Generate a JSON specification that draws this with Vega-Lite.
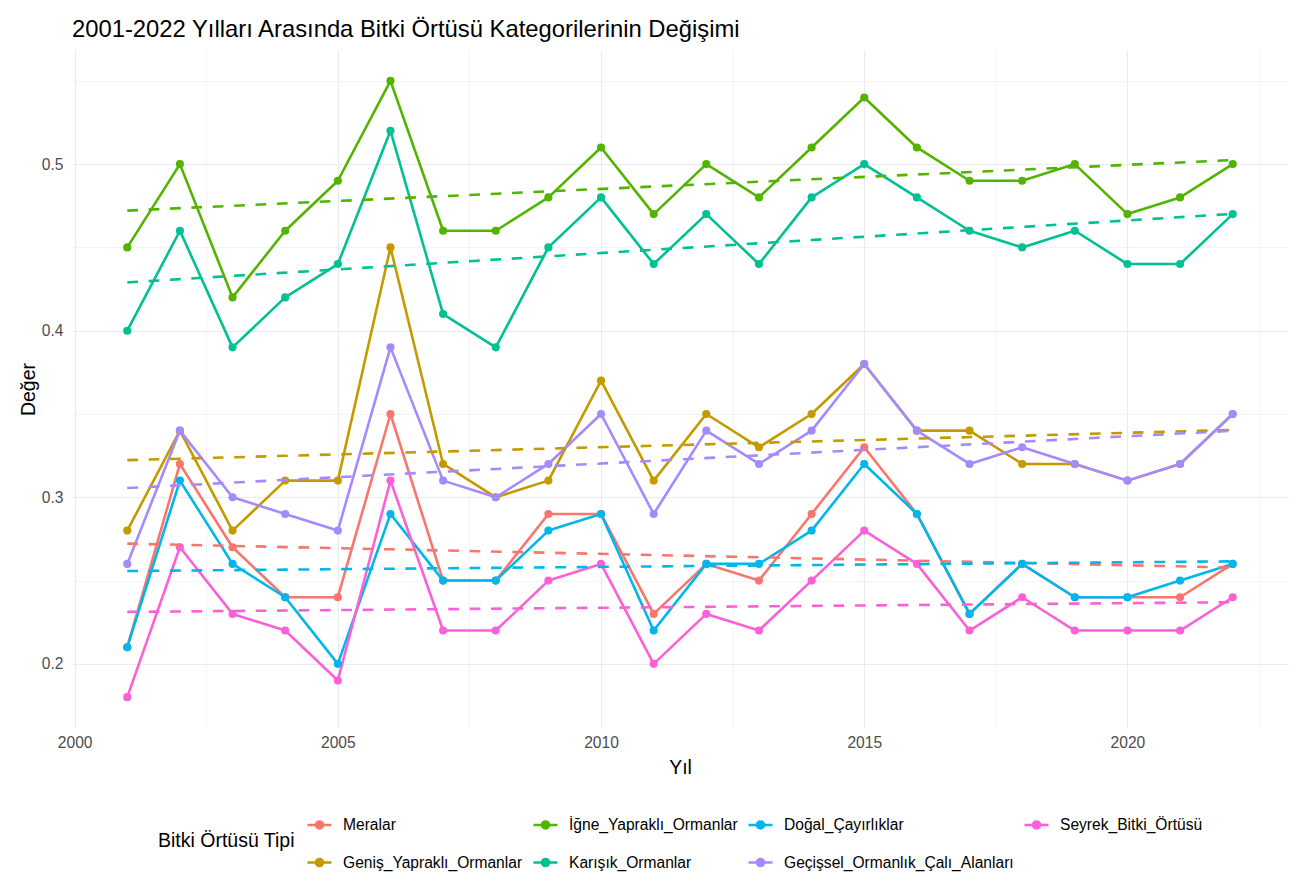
{
"$schema":"https://vega.github.io/schema/vega-lite/v6.json",
"autosize":"none",
"width":1216,"height":678,
"padding":{"left":72,"top":50,"right":16,"bottom":167},
"background":"white",
"title":{"text":"2001-2022 Yılları Arasında Bitki Örtüsü Kategorilerinin Değişimi","anchor":"start","frame":"group","fontSize":23.8,"font":"Liberation Sans","fontWeight":"normal","color":"black","offset":8},
"config":{"view":{"stroke":null},"font":"Liberation Sans"},
"data":{"values":[
{"Yil":2001,"Tip":"Meralar","Deger":0.21},{"Yil":2002,"Tip":"Meralar","Deger":0.32},{"Yil":2003,"Tip":"Meralar","Deger":0.27},{"Yil":2004,"Tip":"Meralar","Deger":0.24},{"Yil":2005,"Tip":"Meralar","Deger":0.24},{"Yil":2006,"Tip":"Meralar","Deger":0.35},{"Yil":2007,"Tip":"Meralar","Deger":0.25},{"Yil":2008,"Tip":"Meralar","Deger":0.25},{"Yil":2009,"Tip":"Meralar","Deger":0.29},{"Yil":2010,"Tip":"Meralar","Deger":0.29},{"Yil":2011,"Tip":"Meralar","Deger":0.23},{"Yil":2012,"Tip":"Meralar","Deger":0.26},{"Yil":2013,"Tip":"Meralar","Deger":0.25},{"Yil":2014,"Tip":"Meralar","Deger":0.29},{"Yil":2015,"Tip":"Meralar","Deger":0.33},{"Yil":2016,"Tip":"Meralar","Deger":0.29},{"Yil":2017,"Tip":"Meralar","Deger":0.23},{"Yil":2018,"Tip":"Meralar","Deger":0.26},{"Yil":2019,"Tip":"Meralar","Deger":0.24},{"Yil":2020,"Tip":"Meralar","Deger":0.24},{"Yil":2021,"Tip":"Meralar","Deger":0.24},{"Yil":2022,"Tip":"Meralar","Deger":0.26},
{"Yil":2001,"Tip":"Geniş_Yapraklı_Ormanlar","Deger":0.28},{"Yil":2002,"Tip":"Geniş_Yapraklı_Ormanlar","Deger":0.34},{"Yil":2003,"Tip":"Geniş_Yapraklı_Ormanlar","Deger":0.28},{"Yil":2004,"Tip":"Geniş_Yapraklı_Ormanlar","Deger":0.31},{"Yil":2005,"Tip":"Geniş_Yapraklı_Ormanlar","Deger":0.31},{"Yil":2006,"Tip":"Geniş_Yapraklı_Ormanlar","Deger":0.45},{"Yil":2007,"Tip":"Geniş_Yapraklı_Ormanlar","Deger":0.32},{"Yil":2008,"Tip":"Geniş_Yapraklı_Ormanlar","Deger":0.30},{"Yil":2009,"Tip":"Geniş_Yapraklı_Ormanlar","Deger":0.31},{"Yil":2010,"Tip":"Geniş_Yapraklı_Ormanlar","Deger":0.37},{"Yil":2011,"Tip":"Geniş_Yapraklı_Ormanlar","Deger":0.31},{"Yil":2012,"Tip":"Geniş_Yapraklı_Ormanlar","Deger":0.35},{"Yil":2013,"Tip":"Geniş_Yapraklı_Ormanlar","Deger":0.33},{"Yil":2014,"Tip":"Geniş_Yapraklı_Ormanlar","Deger":0.35},{"Yil":2015,"Tip":"Geniş_Yapraklı_Ormanlar","Deger":0.38},{"Yil":2016,"Tip":"Geniş_Yapraklı_Ormanlar","Deger":0.34},{"Yil":2017,"Tip":"Geniş_Yapraklı_Ormanlar","Deger":0.34},{"Yil":2018,"Tip":"Geniş_Yapraklı_Ormanlar","Deger":0.32},{"Yil":2019,"Tip":"Geniş_Yapraklı_Ormanlar","Deger":0.32},{"Yil":2020,"Tip":"Geniş_Yapraklı_Ormanlar","Deger":0.31},{"Yil":2021,"Tip":"Geniş_Yapraklı_Ormanlar","Deger":0.32},{"Yil":2022,"Tip":"Geniş_Yapraklı_Ormanlar","Deger":0.35},
{"Yil":2001,"Tip":"İğne_Yapraklı_Ormanlar","Deger":0.45},{"Yil":2002,"Tip":"İğne_Yapraklı_Ormanlar","Deger":0.50},{"Yil":2003,"Tip":"İğne_Yapraklı_Ormanlar","Deger":0.42},{"Yil":2004,"Tip":"İğne_Yapraklı_Ormanlar","Deger":0.46},{"Yil":2005,"Tip":"İğne_Yapraklı_Ormanlar","Deger":0.49},{"Yil":2006,"Tip":"İğne_Yapraklı_Ormanlar","Deger":0.55},{"Yil":2007,"Tip":"İğne_Yapraklı_Ormanlar","Deger":0.46},{"Yil":2008,"Tip":"İğne_Yapraklı_Ormanlar","Deger":0.46},{"Yil":2009,"Tip":"İğne_Yapraklı_Ormanlar","Deger":0.48},{"Yil":2010,"Tip":"İğne_Yapraklı_Ormanlar","Deger":0.51},{"Yil":2011,"Tip":"İğne_Yapraklı_Ormanlar","Deger":0.47},{"Yil":2012,"Tip":"İğne_Yapraklı_Ormanlar","Deger":0.50},{"Yil":2013,"Tip":"İğne_Yapraklı_Ormanlar","Deger":0.48},{"Yil":2014,"Tip":"İğne_Yapraklı_Ormanlar","Deger":0.51},{"Yil":2015,"Tip":"İğne_Yapraklı_Ormanlar","Deger":0.54},{"Yil":2016,"Tip":"İğne_Yapraklı_Ormanlar","Deger":0.51},{"Yil":2017,"Tip":"İğne_Yapraklı_Ormanlar","Deger":0.49},{"Yil":2018,"Tip":"İğne_Yapraklı_Ormanlar","Deger":0.49},{"Yil":2019,"Tip":"İğne_Yapraklı_Ormanlar","Deger":0.50},{"Yil":2020,"Tip":"İğne_Yapraklı_Ormanlar","Deger":0.47},{"Yil":2021,"Tip":"İğne_Yapraklı_Ormanlar","Deger":0.48},{"Yil":2022,"Tip":"İğne_Yapraklı_Ormanlar","Deger":0.50},
{"Yil":2001,"Tip":"Karışık_Ormanlar","Deger":0.40},{"Yil":2002,"Tip":"Karışık_Ormanlar","Deger":0.46},{"Yil":2003,"Tip":"Karışık_Ormanlar","Deger":0.39},{"Yil":2004,"Tip":"Karışık_Ormanlar","Deger":0.42},{"Yil":2005,"Tip":"Karışık_Ormanlar","Deger":0.44},{"Yil":2006,"Tip":"Karışık_Ormanlar","Deger":0.52},{"Yil":2007,"Tip":"Karışık_Ormanlar","Deger":0.41},{"Yil":2008,"Tip":"Karışık_Ormanlar","Deger":0.39},{"Yil":2009,"Tip":"Karışık_Ormanlar","Deger":0.45},{"Yil":2010,"Tip":"Karışık_Ormanlar","Deger":0.48},{"Yil":2011,"Tip":"Karışık_Ormanlar","Deger":0.44},{"Yil":2012,"Tip":"Karışık_Ormanlar","Deger":0.47},{"Yil":2013,"Tip":"Karışık_Ormanlar","Deger":0.44},{"Yil":2014,"Tip":"Karışık_Ormanlar","Deger":0.48},{"Yil":2015,"Tip":"Karışık_Ormanlar","Deger":0.50},{"Yil":2016,"Tip":"Karışık_Ormanlar","Deger":0.48},{"Yil":2017,"Tip":"Karışık_Ormanlar","Deger":0.46},{"Yil":2018,"Tip":"Karışık_Ormanlar","Deger":0.45},{"Yil":2019,"Tip":"Karışık_Ormanlar","Deger":0.46},{"Yil":2020,"Tip":"Karışık_Ormanlar","Deger":0.44},{"Yil":2021,"Tip":"Karışık_Ormanlar","Deger":0.44},{"Yil":2022,"Tip":"Karışık_Ormanlar","Deger":0.47},
{"Yil":2001,"Tip":"Doğal_Çayırlıklar","Deger":0.21},{"Yil":2002,"Tip":"Doğal_Çayırlıklar","Deger":0.31},{"Yil":2003,"Tip":"Doğal_Çayırlıklar","Deger":0.26},{"Yil":2004,"Tip":"Doğal_Çayırlıklar","Deger":0.24},{"Yil":2005,"Tip":"Doğal_Çayırlıklar","Deger":0.20},{"Yil":2006,"Tip":"Doğal_Çayırlıklar","Deger":0.29},{"Yil":2007,"Tip":"Doğal_Çayırlıklar","Deger":0.25},{"Yil":2008,"Tip":"Doğal_Çayırlıklar","Deger":0.25},{"Yil":2009,"Tip":"Doğal_Çayırlıklar","Deger":0.28},{"Yil":2010,"Tip":"Doğal_Çayırlıklar","Deger":0.29},{"Yil":2011,"Tip":"Doğal_Çayırlıklar","Deger":0.22},{"Yil":2012,"Tip":"Doğal_Çayırlıklar","Deger":0.26},{"Yil":2013,"Tip":"Doğal_Çayırlıklar","Deger":0.26},{"Yil":2014,"Tip":"Doğal_Çayırlıklar","Deger":0.28},{"Yil":2015,"Tip":"Doğal_Çayırlıklar","Deger":0.32},{"Yil":2016,"Tip":"Doğal_Çayırlıklar","Deger":0.29},{"Yil":2017,"Tip":"Doğal_Çayırlıklar","Deger":0.23},{"Yil":2018,"Tip":"Doğal_Çayırlıklar","Deger":0.26},{"Yil":2019,"Tip":"Doğal_Çayırlıklar","Deger":0.24},{"Yil":2020,"Tip":"Doğal_Çayırlıklar","Deger":0.24},{"Yil":2021,"Tip":"Doğal_Çayırlıklar","Deger":0.25},{"Yil":2022,"Tip":"Doğal_Çayırlıklar","Deger":0.26},
{"Yil":2001,"Tip":"Geçişsel_Ormanlık_Çalı_Alanları","Deger":0.26},{"Yil":2002,"Tip":"Geçişsel_Ormanlık_Çalı_Alanları","Deger":0.34},{"Yil":2003,"Tip":"Geçişsel_Ormanlık_Çalı_Alanları","Deger":0.30},{"Yil":2004,"Tip":"Geçişsel_Ormanlık_Çalı_Alanları","Deger":0.29},{"Yil":2005,"Tip":"Geçişsel_Ormanlık_Çalı_Alanları","Deger":0.28},{"Yil":2006,"Tip":"Geçişsel_Ormanlık_Çalı_Alanları","Deger":0.39},{"Yil":2007,"Tip":"Geçişsel_Ormanlık_Çalı_Alanları","Deger":0.31},{"Yil":2008,"Tip":"Geçişsel_Ormanlık_Çalı_Alanları","Deger":0.30},{"Yil":2009,"Tip":"Geçişsel_Ormanlık_Çalı_Alanları","Deger":0.32},{"Yil":2010,"Tip":"Geçişsel_Ormanlık_Çalı_Alanları","Deger":0.35},{"Yil":2011,"Tip":"Geçişsel_Ormanlık_Çalı_Alanları","Deger":0.29},{"Yil":2012,"Tip":"Geçişsel_Ormanlık_Çalı_Alanları","Deger":0.34},{"Yil":2013,"Tip":"Geçişsel_Ormanlık_Çalı_Alanları","Deger":0.32},{"Yil":2014,"Tip":"Geçişsel_Ormanlık_Çalı_Alanları","Deger":0.34},{"Yil":2015,"Tip":"Geçişsel_Ormanlık_Çalı_Alanları","Deger":0.38},{"Yil":2016,"Tip":"Geçişsel_Ormanlık_Çalı_Alanları","Deger":0.34},{"Yil":2017,"Tip":"Geçişsel_Ormanlık_Çalı_Alanları","Deger":0.32},{"Yil":2018,"Tip":"Geçişsel_Ormanlık_Çalı_Alanları","Deger":0.33},{"Yil":2019,"Tip":"Geçişsel_Ormanlık_Çalı_Alanları","Deger":0.32},{"Yil":2020,"Tip":"Geçişsel_Ormanlık_Çalı_Alanları","Deger":0.31},{"Yil":2021,"Tip":"Geçişsel_Ormanlık_Çalı_Alanları","Deger":0.32},{"Yil":2022,"Tip":"Geçişsel_Ormanlık_Çalı_Alanları","Deger":0.35},
{"Yil":2001,"Tip":"Seyrek_Bitki_Örtüsü","Deger":0.18},{"Yil":2002,"Tip":"Seyrek_Bitki_Örtüsü","Deger":0.27},{"Yil":2003,"Tip":"Seyrek_Bitki_Örtüsü","Deger":0.23},{"Yil":2004,"Tip":"Seyrek_Bitki_Örtüsü","Deger":0.22},{"Yil":2005,"Tip":"Seyrek_Bitki_Örtüsü","Deger":0.19},{"Yil":2006,"Tip":"Seyrek_Bitki_Örtüsü","Deger":0.31},{"Yil":2007,"Tip":"Seyrek_Bitki_Örtüsü","Deger":0.22},{"Yil":2008,"Tip":"Seyrek_Bitki_Örtüsü","Deger":0.22},{"Yil":2009,"Tip":"Seyrek_Bitki_Örtüsü","Deger":0.25},{"Yil":2010,"Tip":"Seyrek_Bitki_Örtüsü","Deger":0.26},{"Yil":2011,"Tip":"Seyrek_Bitki_Örtüsü","Deger":0.20},{"Yil":2012,"Tip":"Seyrek_Bitki_Örtüsü","Deger":0.23},{"Yil":2013,"Tip":"Seyrek_Bitki_Örtüsü","Deger":0.22},{"Yil":2014,"Tip":"Seyrek_Bitki_Örtüsü","Deger":0.25},{"Yil":2015,"Tip":"Seyrek_Bitki_Örtüsü","Deger":0.28},{"Yil":2016,"Tip":"Seyrek_Bitki_Örtüsü","Deger":0.26},{"Yil":2017,"Tip":"Seyrek_Bitki_Örtüsü","Deger":0.22},{"Yil":2018,"Tip":"Seyrek_Bitki_Örtüsü","Deger":0.24},{"Yil":2019,"Tip":"Seyrek_Bitki_Örtüsü","Deger":0.22},{"Yil":2020,"Tip":"Seyrek_Bitki_Örtüsü","Deger":0.22},{"Yil":2021,"Tip":"Seyrek_Bitki_Örtüsü","Deger":0.22},{"Yil":2022,"Tip":"Seyrek_Bitki_Örtüsü","Deger":0.24}
]},
"layer":[
{"mark":{"type":"line","strokeWidth":2.6,"strokeCap":"butt","strokeJoin":"round"},
 "encoding":{
  "x":{"field":"Yil","type":"quantitative","scale":{"domain":[1999.95,2023.05],"nice":false,"zero":false},
   "axis":{"orient":"bottom","values":[2000,2005,2010,2015,2020],"format":"d","grid":true,"gridColor":"#EBEBEB","gridWidth":1.1,"ticks":false,"domain":false,"labelFontSize":15.6,"labelColor":"#4D4D4D","labelPadding":7,"labelFont":"Liberation Sans","title":"Yıl","titleFont":"Liberation Sans","titleFontSize":19.5,"titleFontWeight":"normal","titleColor":"black","titlePadding":8,"zindex":0}},
  "y":{"field":"Deger","type":"quantitative","scale":{"domain":[0.1615,0.5685],"nice":false,"zero":false},
   "axis":{"orient":"left","values":[0.2,0.3,0.4,0.5],"format":".1f","grid":true,"gridColor":"#EBEBEB","gridWidth":1.1,"ticks":false,"domain":false,"labelFontSize":15.6,"labelColor":"#4D4D4D","labelPadding":9,"labelFont":"Liberation Sans","title":"Değer","titleFont":"Liberation Sans","titleFontSize":19.5,"titleFontWeight":"normal","titleColor":"black","titlePadding":3,"zindex":0}},
  "color":{"field":"Tip","type":"nominal","scale":{"domain":["Meralar","İğne_Yapraklı_Ormanlar","Doğal_Çayırlıklar","Seyrek_Bitki_Örtüsü","Geniş_Yapraklı_Ormanlar","Karışık_Ormanlar","Geçişsel_Ormanlık_Çalı_Alanları"],"range":["#F8766D","#53B400","#00B6EB","#FB61D7","#C49A00","#00C094","#A58AFF"]},
   "legend":{"title":"Bitki Örtüsü Tipi","orient":"none","legendX":86,"legendY":761,"direction":"horizontal","columns":4,"symbolType":"M-1,0L1,0M-0.3,0A0.3,0.3,0,1,1,0.3,0A0.3,0.3,0,1,1,-0.3,0Z","symbolSize":576,"symbolStrokeWidth":2.4,"labelFontSize":15.6,"labelFont":"Liberation Sans","labelColor":"black","labelLimit":0,"labelOffset":10,"columnPadding":5,"rowPadding":15,"titleOrient":"left","titleFontSize":19.5,"titleFont":"Liberation Sans","titleFontWeight":"normal","titleColor":"black","titlePadding":11,"titleAnchor":"middle","titleBaseline":"middle","titleLimit":0,
   "encode":{"symbols":{"update":{"stroke":{"scale":"color","field":"value"},"fill":{"scale":"color","field":"value"},"opacity":{"value":1}}}}}}
 }},
{"mark":{"type":"point","filled":true,"opacity":1,"size":66},
 "encoding":{
  "x":{"field":"Yil","type":"quantitative","axis":{"orient":"bottom","values":[2002.5,2007.5,2012.5,2017.5,2022.5],"grid":true,"gridColor":"#EBEBEB","gridWidth":0.55,"ticks":false,"domain":false,"labels":false,"title":null,"zindex":0}},
  "y":{"field":"Deger","type":"quantitative","axis":{"orient":"left","values":[0.25,0.35,0.45,0.55],"grid":true,"gridColor":"#EBEBEB","gridWidth":0.55,"ticks":false,"domain":false,"labels":false,"title":null,"zindex":0}},
  "color":{"field":"Tip","type":"nominal"}
 }},
{"transform":[{"regression":"Deger","on":"Yil","groupby":["Tip"]}],
 "mark":{"type":"line","strokeWidth":2.6,"strokeDash":[10.7,10.7],"strokeCap":"butt"},
 "encoding":{
  "x":{"field":"Yil","type":"quantitative","axis":null},
  "y":{"field":"Deger","type":"quantitative","axis":null},
  "color":{"field":"Tip","type":"nominal"}
 }}
],
"resolve":{"axis":{"x":"independent","y":"independent"}}
}
